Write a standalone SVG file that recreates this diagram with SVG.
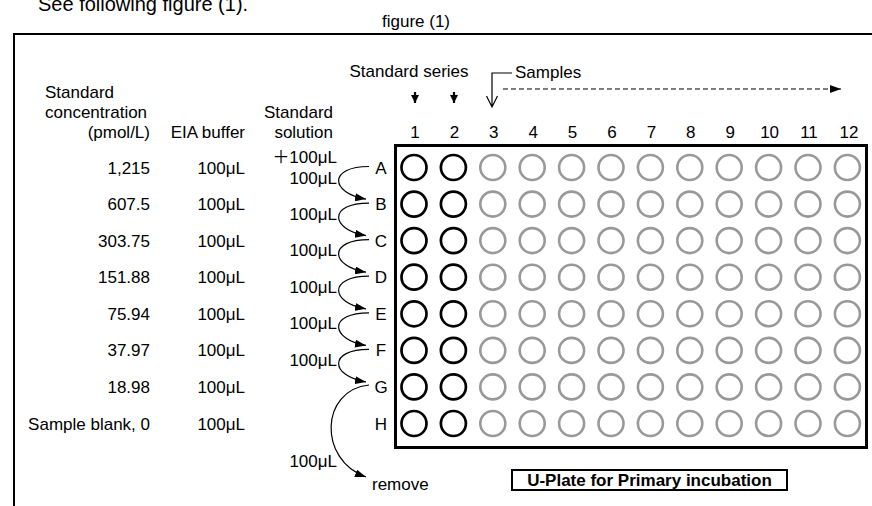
<svg xmlns="http://www.w3.org/2000/svg" width="872" height="506" viewBox="0 0 872 506">
<style>
text{font-family:"Liberation Sans","Noto Sans CJK JP",Arial,sans-serif;font-size:17px;fill:#000}
.e{text-anchor:end}
.m{text-anchor:middle}
.b{font-weight:bold}
.ws circle{fill:none;stroke:#000;stroke-width:2.7}
.wg circle{fill:none;stroke:#999;stroke-width:2.6}
.ln{fill:none;stroke:#000;stroke-width:1.2}
</style>
<defs>
<marker id="ah" viewBox="0 0 11 8" refX="11" refY="4" markerWidth="11" markerHeight="8" markerUnits="userSpaceOnUse" orient="auto"><path d="M0,0 L11,4 L0,8 z" fill="#000"/></marker>
<marker id="bh" viewBox="0 0 8 8" refX="4" refY="8" markerWidth="8" markerHeight="8" markerUnits="userSpaceOnUse" orient="0"><path d="M0,0 L8,0 L4,8 z" fill="#000"/></marker>
</defs>
<g id="frame">
<text x="38" y="11" style="font-size:20px">See following figure (1).</text>
<text x="416" y="27" class="m">figure (1)</text>
<line x1="14" y1="34" x2="872" y2="34" stroke="#000" stroke-width="2"/>
<line x1="14" y1="33" x2="14" y2="506" stroke="#000" stroke-width="2"/>
</g>
<g id="table-left">
<text x="45" y="98">Standard</text>
<text x="45" y="118">concentration</text>
<text x="150" y="138" class="e">(pmol/L)</text>
<text x="245" y="138" class="e">EIA buffer</text>
<text x="333" y="118" class="e">Standard</text>
<text x="333" y="138" class="e">solution</text>
<text x="150" y="173.5" class="e">1,215</text>
<text x="150" y="210.1" class="e">607.5</text>
<text x="150" y="246.6" class="e">303.75</text>
<text x="150" y="283.2" class="e">151.88</text>
<text x="150" y="319.8" class="e">75.94</text>
<text x="150" y="356.4" class="e">37.97</text>
<text x="150" y="392.9" class="e">18.98</text>
<text x="150" y="429.5" class="e">Sample blank, 0</text>
<text x="245" y="173.5" class="e">100μL</text>
<text x="245" y="210.1" class="e">100μL</text>
<text x="245" y="246.6" class="e">100μL</text>
<text x="245" y="283.2" class="e">100μL</text>
<text x="245" y="319.8" class="e">100μL</text>
<text x="245" y="356.4" class="e">100μL</text>
<text x="245" y="392.9" class="e">100μL</text>
<text x="245" y="429.5" class="e">100μL</text>
</g>
<g id="header">
<text x="409" y="77" class="m">Standard series</text>
<line x1="415" y1="92" x2="415" y2="103" stroke="#000" stroke-width="2.2" marker-end="url(#bh)"/>
<line x1="454" y1="92" x2="454" y2="103" stroke="#000" stroke-width="2.2" marker-end="url(#bh)"/>
<path class="ln" d="M512,73 H492 V107 M486.5,96 L492,107 L497.5,96"/>
<text x="515" y="78">Samples</text>
<line x1="503" y1="89" x2="841" y2="89" stroke="#000" stroke-width="1.2" stroke-dasharray="5,3" marker-end="url(#ah)"/>
<text x="415" y="138" class="m">1</text>
<text x="454.4" y="138" class="m">2</text>
<text x="493.8" y="138" class="m">3</text>
<text x="533.2" y="138" class="m">4</text>
<text x="572.6" y="138" class="m">5</text>
<text x="612" y="138" class="m">6</text>
<text x="651.4" y="138" class="m">7</text>
<text x="690.8" y="138" class="m">8</text>
<text x="730.2" y="138" class="m">9</text>
<text x="769.6" y="138" class="m">10</text>
<text x="809" y="138" class="m">11</text>
<text x="849" y="138" class="m">12</text>
</g>
<g id="row-labels">
<text x="381" y="173.5" class="m">A</text>
<text x="381" y="210.1" class="m">B</text>
<text x="381" y="246.6" class="m">C</text>
<text x="381" y="283.2" class="m">D</text>
<text x="381" y="319.8" class="m">E</text>
<text x="381" y="356.4" class="m">F</text>
<text x="381" y="392.9" class="m">G</text>
<text x="381" y="429.5" class="m">H</text>
</g>
<g id="plate">
<rect x="395.5" y="145.5" width="471" height="302" fill="none" stroke="#000" stroke-width="3"/>
<g class="ws">
<circle cx="414" cy="167.5" r="12.5"/><circle cx="453.4" cy="167.5" r="12.5"/>
<circle cx="414" cy="204.1" r="12.5"/><circle cx="453.4" cy="204.1" r="12.5"/>
<circle cx="414" cy="240.6" r="12.5"/><circle cx="453.4" cy="240.6" r="12.5"/>
<circle cx="414" cy="277.2" r="12.5"/><circle cx="453.4" cy="277.2" r="12.5"/>
<circle cx="414" cy="313.8" r="12.5"/><circle cx="453.4" cy="313.8" r="12.5"/>
<circle cx="414" cy="350.4" r="12.5"/><circle cx="453.4" cy="350.4" r="12.5"/>
<circle cx="414" cy="386.9" r="12.5"/><circle cx="453.4" cy="386.9" r="12.5"/>
<circle cx="414" cy="423.5" r="12.5"/><circle cx="453.4" cy="423.5" r="12.5"/>
</g>
<g class="wg">
<circle cx="492.8" cy="167.5" r="12.5"/><circle cx="532.2" cy="167.5" r="12.5"/><circle cx="571.6" cy="167.5" r="12.5"/><circle cx="611" cy="167.5" r="12.5"/><circle cx="650.4" cy="167.5" r="12.5"/><circle cx="689.8" cy="167.5" r="12.5"/><circle cx="729.2" cy="167.5" r="12.5"/><circle cx="768.6" cy="167.5" r="12.5"/><circle cx="808" cy="167.5" r="12.5"/><circle cx="847.4" cy="167.5" r="12.5"/>
<circle cx="492.8" cy="204.1" r="12.5"/><circle cx="532.2" cy="204.1" r="12.5"/><circle cx="571.6" cy="204.1" r="12.5"/><circle cx="611" cy="204.1" r="12.5"/><circle cx="650.4" cy="204.1" r="12.5"/><circle cx="689.8" cy="204.1" r="12.5"/><circle cx="729.2" cy="204.1" r="12.5"/><circle cx="768.6" cy="204.1" r="12.5"/><circle cx="808" cy="204.1" r="12.5"/><circle cx="847.4" cy="204.1" r="12.5"/>
<circle cx="492.8" cy="240.6" r="12.5"/><circle cx="532.2" cy="240.6" r="12.5"/><circle cx="571.6" cy="240.6" r="12.5"/><circle cx="611" cy="240.6" r="12.5"/><circle cx="650.4" cy="240.6" r="12.5"/><circle cx="689.8" cy="240.6" r="12.5"/><circle cx="729.2" cy="240.6" r="12.5"/><circle cx="768.6" cy="240.6" r="12.5"/><circle cx="808" cy="240.6" r="12.5"/><circle cx="847.4" cy="240.6" r="12.5"/>
<circle cx="492.8" cy="277.2" r="12.5"/><circle cx="532.2" cy="277.2" r="12.5"/><circle cx="571.6" cy="277.2" r="12.5"/><circle cx="611" cy="277.2" r="12.5"/><circle cx="650.4" cy="277.2" r="12.5"/><circle cx="689.8" cy="277.2" r="12.5"/><circle cx="729.2" cy="277.2" r="12.5"/><circle cx="768.6" cy="277.2" r="12.5"/><circle cx="808" cy="277.2" r="12.5"/><circle cx="847.4" cy="277.2" r="12.5"/>
<circle cx="492.8" cy="313.8" r="12.5"/><circle cx="532.2" cy="313.8" r="12.5"/><circle cx="571.6" cy="313.8" r="12.5"/><circle cx="611" cy="313.8" r="12.5"/><circle cx="650.4" cy="313.8" r="12.5"/><circle cx="689.8" cy="313.8" r="12.5"/><circle cx="729.2" cy="313.8" r="12.5"/><circle cx="768.6" cy="313.8" r="12.5"/><circle cx="808" cy="313.8" r="12.5"/><circle cx="847.4" cy="313.8" r="12.5"/>
<circle cx="492.8" cy="350.4" r="12.5"/><circle cx="532.2" cy="350.4" r="12.5"/><circle cx="571.6" cy="350.4" r="12.5"/><circle cx="611" cy="350.4" r="12.5"/><circle cx="650.4" cy="350.4" r="12.5"/><circle cx="689.8" cy="350.4" r="12.5"/><circle cx="729.2" cy="350.4" r="12.5"/><circle cx="768.6" cy="350.4" r="12.5"/><circle cx="808" cy="350.4" r="12.5"/><circle cx="847.4" cy="350.4" r="12.5"/>
<circle cx="492.8" cy="386.9" r="12.5"/><circle cx="532.2" cy="386.9" r="12.5"/><circle cx="571.6" cy="386.9" r="12.5"/><circle cx="611" cy="386.9" r="12.5"/><circle cx="650.4" cy="386.9" r="12.5"/><circle cx="689.8" cy="386.9" r="12.5"/><circle cx="729.2" cy="386.9" r="12.5"/><circle cx="768.6" cy="386.9" r="12.5"/><circle cx="808" cy="386.9" r="12.5"/><circle cx="847.4" cy="386.9" r="12.5"/>
<circle cx="492.8" cy="423.5" r="12.5"/><circle cx="532.2" cy="423.5" r="12.5"/><circle cx="571.6" cy="423.5" r="12.5"/><circle cx="611" cy="423.5" r="12.5"/><circle cx="650.4" cy="423.5" r="12.5"/><circle cx="689.8" cy="423.5" r="12.5"/><circle cx="729.2" cy="423.5" r="12.5"/><circle cx="768.6" cy="423.5" r="12.5"/><circle cx="808" cy="423.5" r="12.5"/><circle cx="847.4" cy="423.5" r="12.5"/>
</g>
</g>
<g id="connectors">
<path class="ln" d="M369,166.5 C328,166.5 330,193.1 366,199.1" marker-end="url(#ah)"/>
<path class="ln" d="M369,203.1 C328,203.1 330,229.6 366,235.6" marker-end="url(#ah)"/>
<path class="ln" d="M369,239.6 C328,239.6 330,266.2 366,272.2" marker-end="url(#ah)"/>
<path class="ln" d="M369,276.2 C328,276.2 330,302.8 366,308.8" marker-end="url(#ah)"/>
<path class="ln" d="M369,312.8 C328,312.8 330,339.4 366,345.4" marker-end="url(#ah)"/>
<path class="ln" d="M369,349.4 C328,349.4 330,375.9 366,381.9" marker-end="url(#ah)"/>
<path class="ln" d="M369,385 C320,390 318,460 366,477" marker-end="url(#ah)"/>
</g>
<g id="volumes">
<text x="337" y="163" class="e">＋100μL</text>
<text x="337" y="184" class="e">100μL</text>
<text x="337" y="219.5" class="e">100μL</text>
<text x="337" y="256" class="e">100μL</text>
<text x="337" y="292.5" class="e">100μL</text>
<text x="337" y="329" class="e">100μL</text>
<text x="337" y="365.5" class="e">100μL</text>
<text x="337" y="467" class="e">100μL</text>
<text x="372" y="490">remove</text>
</g>
<g id="plate-label">
<rect x="512" y="470" width="275" height="20" fill="none" stroke="#000" stroke-width="2"/>
<text x="649.5" y="486" class="m b">U-Plate for Primary incubation</text>
</g>
</svg>
